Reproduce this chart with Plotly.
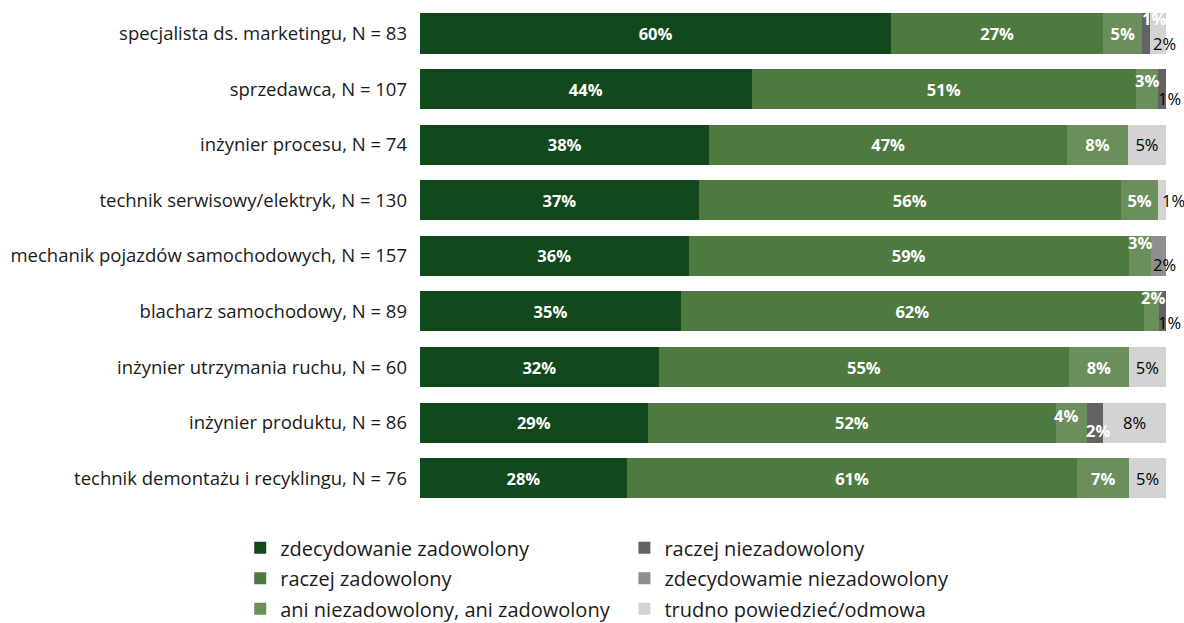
import plotly.graph_objects as go

# Job titles (top to bottom) and their sample sizes
categories = [
    "specjalista ds. marketingu, N = 83",
    "sprzedawca, N = 107",
    "inżynier procesu, N = 74",
    "technik serwisowy/elektryk, N = 130",
    "mechanik pojazdów samochodowych, N = 157",
    "blacharz samochodowy, N = 89",
    "inżynier utrzymania ruchu, N = 60",
    "inżynier produktu, N = 86",
    "technik demontażu i recyklingu, N = 76",
]

# Share of answers per category (%)
zdecydowanie_zadowolony = [60, 44, 38, 37, 36, 35, 32, 29, 28]
raczej_zadowolony = [27, 51, 47, 56, 59, 62, 55, 52, 61]
ani_ani = [5, 3, 8, 5, 3, 2, 8, 4, 7]
raczej_niezadowolony = [1, 1, 0, 0, 0, 1, 0, 2, 0]
zdecydowanie_niezadowolony = [0, 0, 0, 0, 2, 0, 0, 0, 0]
trudno_powiedziec = [2, 0, 5, 1, 0, 0, 5, 8, 5]

# name, values, colour, label colour, legend column, position in column
series = [
    ("zdecydowanie zadowolony", zdecydowanie_zadowolony, "#11491D", "white", "legend", 1),
    ("raczej zadowolony", raczej_zadowolony, "#4E7A40", "white", "legend", 2),
    ("ani niezadowolony, ani zadowolony", ani_ani, "#6A8F5B", "white", "legend", 3),
    ("raczej niezadowolony", raczej_niezadowolony, "#636363", "white", "legend2", 1),
    ("zdecydowamie niezadowolony", zdecydowanie_niezadowolony, "#8E8E8E", "white", "legend2", 2),
    ("trudno powiedzieć/odmowa", trudno_powiedziec, "#D3D3D3", "black", "legend2", 3),
]

# Labels of narrow segments are drawn beside the segment: (row, series) -> (dx, dy, colour, bold)
nudged = {
    (0, 3): (8, 15, "white", True),
    (0, 5): (6, -10, "black", False),
    (1, 2): (0, 9, "white", True),
    (1, 3): (7, -9, "black", False),
    (3, 5): (11, 0, "black", False),
    (4, 2): (0, 13, "white", True),
    (4, 4): (6, -9, "black", False),
    (5, 2): (2, 14, "white", True),
    (5, 3): (7, -11, "black", False),
    (7, 2): (-6, 7, "white", True),
    (7, 3): (3, -8, "white", True),
}

FONT = "Open Sans, Calibri, Carlito, sans-serif"
TXT = "#1a1a1a"
LABEL_SIZE = 16.5

fig = go.Figure()
for si, (name, vals, color, tcolor, leg, rank) in enumerate(series):
    texts = []
    for ri, v in enumerate(vals):
        if v == 0 or (ri, si) in nudged:
            texts.append("")
        else:
            texts.append(f"<b>{v}%</b>" if tcolor == "white" else f"{v}%")
    fig.add_trace(go.Bar(
        name=name, y=categories, x=vals, orientation="h",
        marker=dict(color=color, line=dict(width=0)),
        text=texts, textposition="inside", insidetextanchor="middle",
        textfont=dict(color=tcolor, size=LABEL_SIZE, family=FONT),
        hoverinfo="skip", legend=leg, legendrank=rank, legendgroup=name,
    ))

# Annotations for narrow segments, placed at the normalised segment centres
for (ri, si), (dx, dy, col, bold) in nudged.items():
    row_vals = [s[1][ri] for s in series]
    total = sum(row_vals)
    start = sum(row_vals[:si])
    v = row_vals[si]
    center = (start + v / 2) / total * 100
    txt = f"<b>{v}%</b>" if bold else f"{v}%"
    fig.add_annotation(
        x=center, y=categories[ri], xref="x", yref="y", text=txt,
        showarrow=False, xshift=dx, yshift=dy,
        font=dict(color=col, size=LABEL_SIZE, family=FONT),
    )

legend_style = dict(
    orientation="v", yref="container", yanchor="top", y=0.152, xanchor="left",
    font=dict(size=20, family=FONT, color=TXT),
    traceorder="grouped", tracegroupgap=1.5, bgcolor="rgba(0,0,0,0)",
)

fig.update_layout(
    barmode="stack", barnorm="percent", bargap=0.28,
    width=1184, height=623,
    margin=dict(l=420, r=18, t=5, b=117, autoexpand=False),
    paper_bgcolor="white", plot_bgcolor="white",
    uniformtext=dict(mode="show", minsize=LABEL_SIZE),
    font=dict(family=FONT, size=16, color=TXT),
    showlegend=True,
    legend=dict(x=-0.241, **legend_style),
    legend2=dict(x=0.274, **legend_style),
)
fig.update_xaxes(range=[0, 100], visible=False, fixedrange=True)
fig.update_yaxes(
    categoryorder="array", categoryarray=categories[::-1],
    showgrid=False, showline=False, ticks="", ticklabelstandoff=12,
    tickfont=dict(size=18.5, family=FONT, color=TXT),
)

fig.write_html("out.html")
